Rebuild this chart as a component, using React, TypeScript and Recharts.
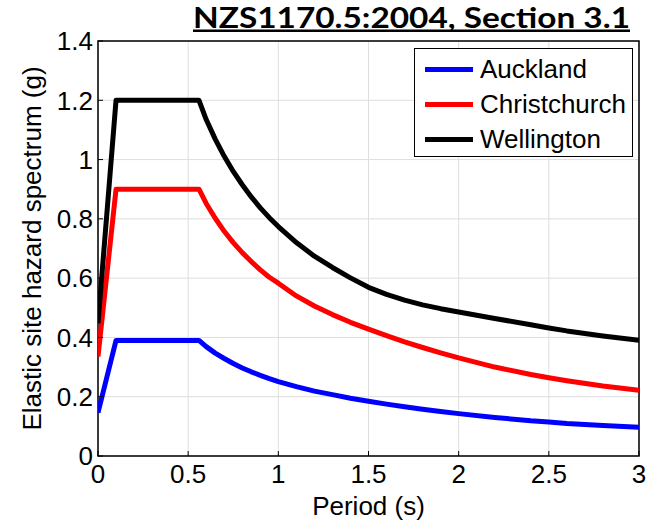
import React from "react";
import {
  LineChart,
  Line,
  XAxis,
  YAxis,
  CartesianGrid,
  Legend,
  ReferenceArea,
} from "recharts";

const periods = [0, 0.1, 0.2, 0.3, 0.4, 0.5, 0.56, 0.6, 0.65, 0.7, 0.75, 0.8, 0.85, 0.9, 0.95, 1.0, 1.1, 1.2, 1.3, 1.4, 1.5, 1.6, 1.7, 1.8, 1.9, 2.0, 2.2, 2.4, 2.5, 2.6, 2.8, 3.0];
const auckland = [0.146, 0.39, 0.39, 0.39, 0.39, 0.39, 0.39, 0.369, 0.347, 0.329, 0.312, 0.297, 0.284, 0.272, 0.261, 0.251, 0.234, 0.219, 0.207, 0.195, 0.185, 0.175, 0.166, 0.158, 0.15, 0.143, 0.13, 0.119, 0.115, 0.11, 0.103, 0.097];
const christchurch = [0.336, 0.9, 0.9, 0.9, 0.9, 0.9, 0.9, 0.852, 0.802, 0.758, 0.72, 0.686, 0.656, 0.628, 0.603, 0.583, 0.54, 0.506, 0.477, 0.451, 0.428, 0.406, 0.385, 0.366, 0.348, 0.331, 0.3, 0.275, 0.264, 0.254, 0.236, 0.222];
const wellington = [0.448, 1.2, 1.2, 1.2, 1.2, 1.2, 1.2, 1.135, 1.069, 1.011, 0.96, 0.915, 0.874, 0.837, 0.804, 0.774, 0.72, 0.674, 0.636, 0.601, 0.569, 0.545, 0.526, 0.51, 0.497, 0.486, 0.464, 0.443, 0.432, 0.422, 0.405, 0.39];

const xTicks = [0, 0.5, 1, 1.5, 2, 2.5, 3];
const yTicks = [0, 0.2, 0.4, 0.6, 0.8, 1, 1.2, 1.4];

const seriesInfo = [
  { key: "Auckland", color: "#0000ff" },
  { key: "Christchurch", color: "#ff0000" },
  { key: "Wellington", color: "#000000" },
];

const titleText = "NZS1170.5:2004, Section 3.1";
const xLabel = "Period (s)";
const yLabel = "Elastic site hazard spectrum (g)";

const data = periods.map((T, i) => ({
  T,
  Auckland: auckland[i],
  Christchurch: christchurch[i],
  Wellington: wellington[i],
}));

const FONT = "'Liberation Sans', Arial, Helvetica, sans-serif";
const fmt = (v: number) => String(Number(v.toFixed(2)));

const LegendBox = () => (
  <div
    style={{
      width: 219,
      height: 109,
      boxSizing: "border-box",
      border: "1.5px solid #000",
      background: "#fff",
      fontFamily: FONT,
      fontSize: 26,
      color: "#000",
      position: "relative",
    }}
  >
    {seriesInfo.map((s, i) => (
      <div
        key={s.key}
        style={{
          position: "absolute",
          left: 0,
          top: 3 + i * 35,
          height: 35,
          display: "flex",
          alignItems: "center",
          whiteSpace: "nowrap",
        }}
      >
        <div style={{ width: 48, height: 5, background: s.color, marginLeft: 10, marginRight: 7 }} />
        <span style={{ lineHeight: "35px" }}>{s.key}</span>
      </div>
    ))}
  </div>
);

export default function App() {
  return (
    <div style={{ position: "absolute", left: 0, top: 0, width: 654, height: 520, background: "#fff" }}>
      <LineChart
        width={654}
        height={520}
        data={data}
        margin={{ top: 41, right: 15, bottom: 0, left: 0 }}
        style={{ fontFamily: FONT }}
      >
        <CartesianGrid stroke="#dedede" strokeWidth={1} vertical horizontal />
        <XAxis
          dataKey="T"
          type="number"
          domain={[0, 3]}
          ticks={xTicks}
          tickFormatter={fmt}
          height={64}
          axisLine={false}
          tickSize={-5}
          tickMargin={14}
          tickLine={{ stroke: "#000", strokeWidth: 1 }}
          tick={{ fill: "#000", fontSize: 26, fontFamily: FONT }}
          interval={0}
          allowDataOverflow
          label={{ value: xLabel, position: "insideBottom", offset: 5, fill: "#000", fontSize: 26, fontFamily: FONT }}
        />
        <XAxis
          xAxisId="top"
          orientation="top"
          dataKey="T"
          type="number"
          domain={[0, 3]}
          ticks={xTicks}
          height={0}
          axisLine={false}
          tickSize={-5}
          tick={false}
          tickLine={{ stroke: "#000", strokeWidth: 1 }}
          interval={0}
        />
        <YAxis
          type="number"
          domain={[0, 1.4]}
          ticks={yTicks}
          tickFormatter={fmt}
          width={98}
          axisLine={false}
          tickSize={-5}
          tickMargin={10}
          tickLine={{ stroke: "#000", strokeWidth: 1 }}
          tick={{ fill: "#000", fontSize: 26, fontFamily: FONT }}
          interval={0}
          allowDataOverflow
          label={{
            value: yLabel,
            angle: -90,
            position: "insideLeft",
            offset: 32,
            fill: "#000",
            fontSize: 26,
            fontFamily: FONT,
            style: { textAnchor: "middle" },
          }}
        />
        <YAxis
          yAxisId="right"
          orientation="right"
          type="number"
          domain={[0, 1.4]}
          ticks={yTicks}
          width={0}
          axisLine={false}
          tickSize={-5}
          tick={false}
          tickLine={{ stroke: "#000", strokeWidth: 1 }}
          interval={0}
        />
        <ReferenceArea x1={0} x2={3} y1={0} y2={1.4} fill="none" stroke="#000" strokeWidth={1.5} fillOpacity={0} />
        {seriesInfo.map((s) => (
          <Line
            key={s.key}
            type="linear"
            dataKey={s.key}
            stroke={s.color}
            strokeWidth={5}
            dot={false}
            activeDot={false}
            isAnimationActive={false}
            strokeLinejoin="round"
          />
        ))}
        <Legend
          layout="vertical"
          align="center"
          verticalAlign="middle"
          content={() => <LegendBox />}
          wrapperStyle={{ left: 414, top: 48, width: 219, height: 109 }}
        />
      </LineChart>
      <svg
        width={654}
        height={40}
        style={{ position: "absolute", left: 0, top: 0, pointerEvents: "none" }}
      >
        <text
          x={193}
          y={28}
          textLength={437}
          lengthAdjust="spacingAndGlyphs"
          fontFamily="Lato, 'Open Sans', sans-serif"
          fontWeight={700}
          fontSize={29}
          fill="#000"
        >
          {titleText}
        </text>
        <rect x={193} y={29.5} width={437} height={2.5} fill="#000" />
      </svg>
    </div>
  );
}
